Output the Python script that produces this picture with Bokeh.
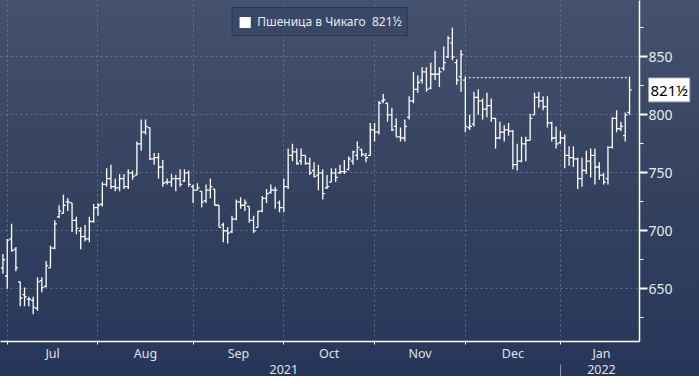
from bokeh.plotting import figure
from bokeh.models import (ColumnDataSource, Range1d, FixedTicker, LinearAxis,
                          Legend, LegendItem, Label)
from bokeh.embed import file_html
from bokeh.resources import INLINE

# ---------------- data ----------------
series_name = "Пшеница в Чикаго"
last_price = 821.5
last_price_text = "821½"
ref_level = 832          # dotted level line
ref_start = 107.8        # bar index where dotted line starts
ref_end = 144.5          # bar index where dotted line ends

opens = [668, 661, 693, 684, 656, 645, 641, 640, 633, 657,
         652, 668, 685, 712, 715, 725, 724, 709, 700, 695,
         693, 708, 720, 723, 740, 745, 738, 737, 745, 738,
         750, 748, 775, 785, 789, 762, 763, 755, 742, 742,
         745, 745, 743, 750, 738, 735, 734, 726, 735, 736,
         722, 705, 700, 699, 710, 725, 722, 721, 709, 703,
         717, 728, 733, 735, 724, 720, 738, 765, 768, 760,
         765, 758, 752, 748, 750, 737, 742, 750, 750, 751,
         753, 760, 765, 770, 765, 765, 787, 785, 812, 810,
         800, 790, 781, 780, 798, 812, 822, 830, 837, 823,
         835, 835, 840, 850, 862, 845, 833, 830, 789, 792,
         815, 812, 805, 808, 797, 780, 785, 787, 786, 757,
         760, 775, 778, 800, 815, 812, 807, 793, 780, 776,
         780, 765, 763, 762, 745, 752, 760, 765, 755, 748,
         745, 772, 797, 788, 782, 802]

highs = [680, 693, 706, 686, 656, 651, 643, 643, 660, 660,
         674, 687, 709, 722, 731, 728, 724, 712, 703, 705,
         712, 723, 724, 742, 754, 757, 745, 749, 749, 753,
         752, 777, 796, 796, 789, 767, 767, 761, 745, 749,
         748, 753, 753, 752, 740, 741, 734, 740, 745, 736,
         722, 707, 703, 713, 727, 729, 727, 721, 713, 717,
         730, 736, 740, 738, 726, 745, 771, 775, 771, 771,
         765, 763, 759, 757, 753, 748, 754, 754, 757, 761,
         764, 769, 777, 771, 767, 793, 793, 812, 818, 810,
         806, 797, 789, 796, 816, 837, 834, 841, 841, 845,
         855, 841, 859, 868, 875, 848, 856, 833, 800, 820,
         822, 814, 819, 814, 797, 794, 791, 793, 787, 775,
         781, 781, 801, 819, 820, 816, 816, 794, 790, 786,
         783, 773, 773, 763, 763, 769, 771, 771, 759, 750,
         773, 798, 804, 794, 802, 833]

lows = [663, 650, 682, 665, 635, 635, 635, 628, 631, 647,
        651, 668, 684, 711, 715, 717, 699, 697, 684, 691,
        690, 707, 713, 721, 738, 736, 734, 734, 736, 736,
        744, 748, 769, 783, 761, 757, 745, 738, 740, 738,
        734, 738, 742, 738, 724, 735, 720, 724, 728, 722,
        703, 690, 689, 698, 709, 719, 717, 707, 698, 703,
        716, 724, 732, 719, 716, 716, 736, 760, 757, 757,
        757, 748, 746, 735, 727, 736, 742, 742, 749, 749,
        752, 757, 761, 764, 759, 765, 777, 783, 810, 794,
        786, 781, 777, 777, 796, 810, 819, 827, 820, 822,
        830, 824, 838, 849, 847, 826, 820, 785, 787, 790,
        800, 796, 798, 794, 771, 779, 777, 782, 753, 752,
        759, 760, 778, 800, 806, 804, 789, 777, 771, 775,
        754, 756, 755, 736, 738, 749, 746, 740, 744, 740,
        740, 771, 785, 786, 777, 800]

closes = [675, 692, 683, 668, 642, 643, 641, 634, 656, 651,
          670, 685, 706, 717, 722, 725, 709, 702, 695, 693,
          708, 720, 722, 740, 745, 738, 737, 745, 738, 750,
          747, 775, 785, 790, 762, 763, 755, 741, 742, 745,
          745, 740, 750, 740, 735, 737, 725, 735, 738, 722,
          703, 700, 698, 710, 725, 722, 724, 709, 700, 717,
          728, 732, 735, 735, 720, 738, 765, 768, 758, 765,
          758, 750, 747, 750, 732, 738, 750, 746, 751, 751,
          762, 768, 772, 766, 763, 787, 785, 810, 813, 800,
          787, 781, 780, 790, 812, 822, 828, 837, 822, 835,
          835, 837, 845, 866, 850, 830, 852, 790, 790, 815,
          812, 805, 808, 797, 780, 785, 787, 786, 757, 760,
          775, 778, 797, 815, 812, 807, 793, 780, 775, 780,
          765, 763, 762, 745, 752, 760, 765, 755, 748, 742,
          772, 797, 788, 790, 800, 821.5]

# x axis: bar index of first trading day of each month, and label positions
month_starts = [1, 22, 44, 65, 86, 107, 129]
month_labels = ["Jul", "Aug", "Sep", "Oct", "Nov", "Dec", "Jan"]
month_label_pos = [11.5, 33, 54.5, 75.5, 96.5, 118, 138.5]
year_labels = ["2021", "2022"]
year_label_pos = [65, 138.5]
year_break = [129]

# y axis
y_major = [650, 700, 750, 800, 850]
y_minor = [625, 675, 725, 775, 825, 875]

# ---------------- figure ----------------
FONT = "Noto Sans"
FRAME_W, FRAME_H = 639, 341
X0, X1 = -0.56, 147.3
Y0, Y1 = 604.5, 898.6

idx = list(range(len(closes)))
src = ColumnDataSource(data=dict(
    x=idx,
    xl=[i - 0.5 for i in idx],
    xr=[i + 0.5 for i in idx],
    o=opens, h=highs, l=lows, c=closes,
))

p = figure(frame_width=FRAME_W, frame_height=FRAME_H,
           x_range=Range1d(X0, X1), y_range=Range1d(Y0, Y1),
           y_axis_location="right",
           output_backend="svg", toolbar_location=None,
           min_border_left=0, min_border_top=0, min_border_bottom=34,
           min_border_right=44)
p.background_fill_color = None
p.border_fill_color = None
p.outline_line_color = None
p.styles = {"background": "linear-gradient(180deg, #44526f 0%, #34425f 50%, #27355a 100%)"}

# grids
p.xgrid.ticker = FixedTicker(ticks=month_starts)
for g in (p.xgrid, p.ygrid):
    g.grid_line_color = "#8a97b2"
    g.grid_line_alpha = 0.55
    g.grid_line_dash = "2 3"
    g.grid_line_width = 1

# OHLC bars
bar_kw = dict(source=src, line_color="white", line_width=1.3)
p.segment(x0="x", y0="l", x1="x", y1="h", **bar_kw)
p.segment(x0="xl", y0="o", x1="x", y1="o", **bar_kw)
p.segment(x0="x", y0="c", x1="xr", y1="c", **bar_kw)

# dotted level line
p.line(x=[ref_start, ref_end], y=[ref_level, ref_level],
       line_color="white", line_width=1, line_dash="2 2")

# bottom axis: month labels, boundary ticks as minor ticks
ax = p.xaxis[0]
ax.ticker = FixedTicker(ticks=month_label_pos, minor_ticks=month_starts)
ax.major_label_overrides = {pos: lab for pos, lab in zip(month_label_pos, month_labels)}
ax.major_tick_line_color = None
ax.major_tick_out = 0
ax.major_tick_in = 0
ax.minor_tick_line_color = "white"
ax.minor_tick_out = 3
ax.minor_tick_in = 0
ax.axis_line_color = "white"
ax.axis_line_width = 1.5
ax.major_label_standoff = 0
ax.major_label_text_color = "#dfe3ea"
ax.major_label_text_font = FONT
ax.major_label_text_font_size = "12.5px"

# second bottom axis: year labels + year separator (tick drawn downward)
ax2 = LinearAxis(ticker=FixedTicker(ticks=year_label_pos, minor_ticks=year_break))
ax2.major_label_overrides = {pos: lab for pos, lab in zip(year_label_pos, year_labels)}
ax2.axis_line_color = None
ax2.major_tick_line_color = None
ax2.major_tick_out = 0
ax2.major_tick_in = 0
ax2.minor_tick_line_color = "#8e97aa"
ax2.minor_tick_out = 0
ax2.minor_tick_in = -18
ax2.major_label_standoff = 0
ax2.major_label_text_color = "#dfe3ea"
ax2.major_label_text_font = FONT
ax2.major_label_text_font_size = "12.5px"
p.add_layout(ax2, "below")

# right axis
ay = p.yaxis[0]
ay.ticker = FixedTicker(ticks=y_major, minor_ticks=y_minor)
ay.axis_line_color = "white"
ay.axis_line_width = 1.5
ay.major_tick_line_color = "white"
ay.major_tick_line_width = 2
ay.major_tick_out = 8
ay.major_tick_in = 0
ay.minor_tick_line_color = "white"
ay.minor_tick_out = 4
ay.minor_tick_in = 0
ay.major_label_standoff = 1
ay.major_label_text_color = "#e6e9ef"
ay.major_label_text_font = FONT
ay.major_label_text_font_size = "14px"

# last price callout, placed in the right side panel (not clipped to the frame)
callout_sy = (last_price - Y0) / (Y1 - Y0) * FRAME_H
p.add_layout(Label(x=-27, y=callout_sy, x_units="screen", y_units="screen",
                   text=last_price_text,
                   text_align="left", text_baseline="middle",
                   text_color="black", text_font=FONT, text_font_size="15px",
                   background_fill_color="white", border_line_color="#9aa2b2",
                   padding=2), "right")

# legend (marker renderer has zero size: only its style is used for the legend swatch)
r_leg = p.quad(left=[idx[-1]], right=[idx[-1]], top=[last_price], bottom=[last_price],
               fill_color="white", line_color=None)
legend = Legend(items=[LegendItem(label=series_name + "  " + last_price_text, renderers=[r_leg])],
                location="top", orientation="horizontal",
                background_fill_color="#3a4868", background_fill_alpha=1,
                border_line_color="#1b2333", border_line_width=1.2,
                padding=5, margin=7, glyph_width=14, glyph_height=14,
                label_standoff=6, label_height=14,
                label_text_font=FONT, label_text_font_size="12px",
                label_text_color="#e8eaee")
p.add_layout(legend)

open("out.html", "w").write(file_html(p, INLINE))
